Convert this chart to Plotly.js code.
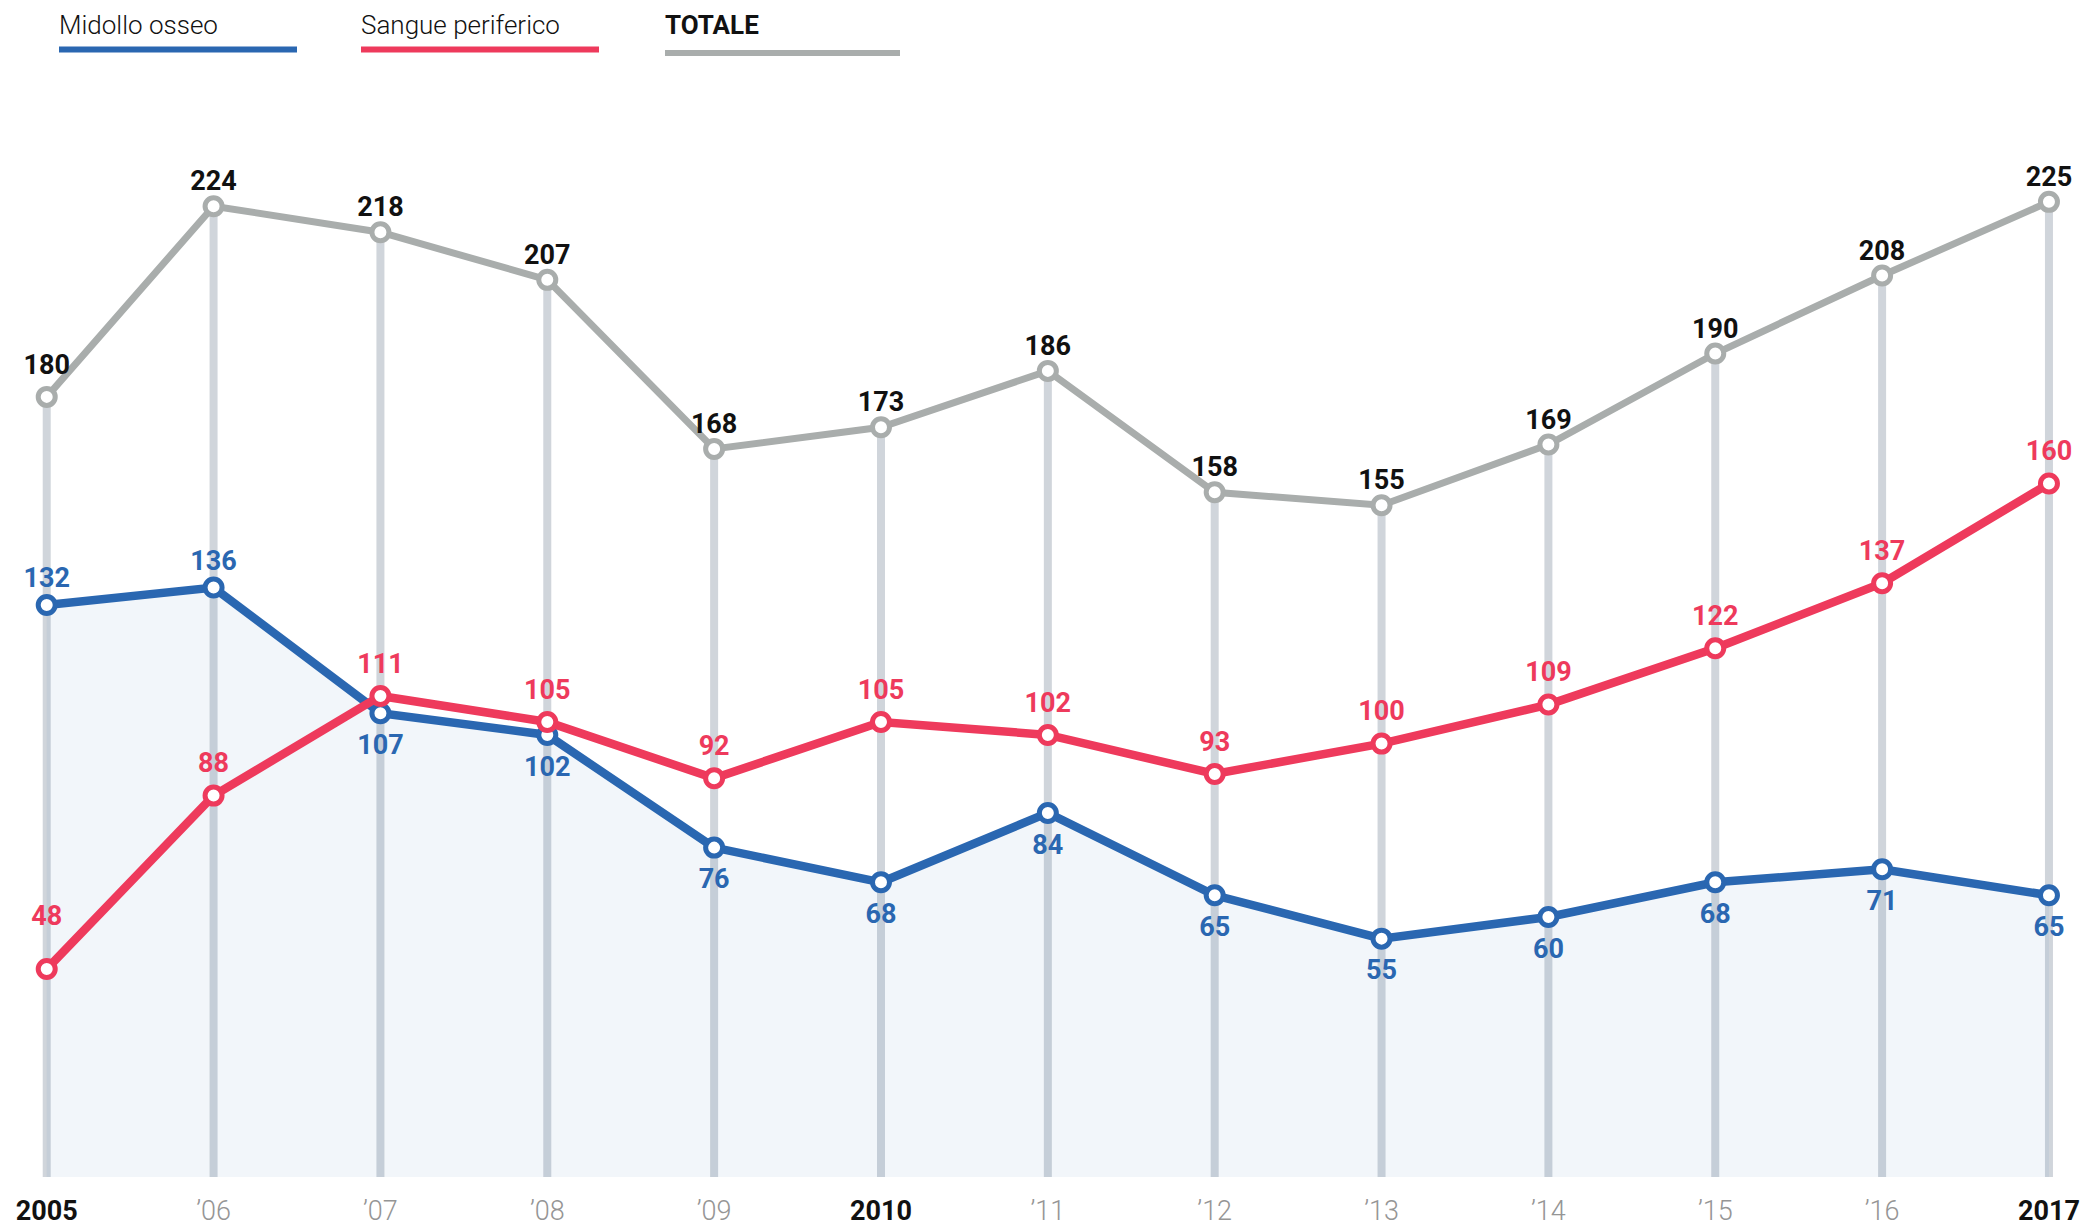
<!DOCTYPE html>
<html><head><meta charset="utf-8">
<script src="https://cdn.plot.ly/plotly-3.0.1.min.js"></script>
<style>html,body{margin:0;padding:0;background:#fff;}</style>
</head><body>
<div id="chart" style="width:2085px;height:1227px;"></div>
<script>
const years = [2005,2006,2007,2008,2009,2010,2011,2012,2013,2014,2015,2016,2017];
const tickLabels = ['2005','’06','’07','’08','’09','2010','’11','’12','’13','’14','’15','’16','2017'];
const boldYears = [2005,2010,2017];
const midollo = [132,136,107,102,76,68,84,65,55,60,68,71,65];
const sangue = [48,88,111,105,92,105,102,93,100,109,122,137,160];
const totale = [180,224,218,207,168,173,186,158,155,169,190,208,225];
const midolloLabelPos = ['top center','top center','bottom center','bottom center','bottom center','bottom center','bottom center','bottom center','bottom center','bottom center','bottom center','bottom center','bottom center'];
const seriesNames = ['Midollo osseo','Sangue periferico','TOTALE'];

/* ---- styles ---- */
const BLUE = '#2a67b1', RED = '#ee3a5c', GRAY = '#a9adac', DROP = '#d0d5db';
const labelFont = (c) => ({family:'Roboto', size:27, weight:'bold', color:c});
/* invisible spacer sizes that set the distance of each value label from its point */
const padMidollo = midolloLabelPos.map(p => p.startsWith('top') ? 16 : 31);
const padSangue = years.map((y,i) => i === 0 ? 58 : 25);
const padTotale = years.map((y,i) => i === 0 ? 25 : 13);

const dropX = [], dropY = [];
years.forEach((y,i) => { dropX.push(y,y,null); dropY.push(0,totale[i],null); });

const markerOf = (c) => ({symbol:'circle', size:17, color:'#ffffff', line:{color:c, width:5}});
const lineTrace = (vals, c, w, extra) => Object.assign({x:years, y:vals, mode:'lines+markers',
  line:{color:c, width:w}, marker:markerOf(c)}, extra || {});
const labelTrace = (vals, c, pos, pad) => ({x:years, y:vals, mode:'markers+text',
  marker:{size:pad, opacity:0}, text:vals.map(String), textposition:pos, textfont:labelFont(c), cliponaxis:false});

const traces = [
  {x:dropX, y:dropY, mode:'lines', line:{color:DROP, width:8}, hoverinfo:'skip'},
  lineTrace(midollo, BLUE, 8.5, {fill:'tozeroy', fillcolor:'rgba(42,103,177,0.06)'}),
  lineTrace(totale, GRAY, 7),
  lineTrace(sangue, RED, 8.5),
  labelTrace(midollo, BLUE, midolloLabelPos, padMidollo),
  labelTrace(totale, '#111', 'top center', padTotale),
  labelTrace(sangue, RED, 'top center', padSangue)
];

const ticktext = years.map((y,i) => boldYears.includes(y) ? '<b>'+tickLabels[i]+'</b>'
  : '<span style="color:#959595;font-weight:300">'+tickLabels[i]+'</span>');

const T = 100, B = 1177, H = B - T;
const py = (p) => (B - p) / H;
const px = (p) => p / 2085;
const legendItems = [
  {name:seriesNames[0], x0:59, x1:297, y:49.5, color:BLUE, bold:false},
  {name:seriesNames[1], x0:361, x1:599, y:49.5, color:RED, bold:false},
  {name:seriesNames[2], x0:665, x1:900, y:53, color:GRAY, bold:true}
];
const shapes = legendItems.map(it => ({type:'line', xref:'paper', yref:'paper', x0:px(it.x0), x1:px(it.x1),
  y0:py(it.y), y1:py(it.y), line:{color:it.color, width:6}}));
const annotations = legendItems.map(it => ({xref:'paper', yref:'paper', x:px(it.x0 - 2), y:py(25),
  xanchor:'left', yanchor:'middle', showarrow:false, text: it.bold ? '<b>'+it.name+'</b>' : it.name,
  font:{family:'Roboto', size: 26, weight: it.bold ? 'bold' : 300, color:'#111'}}));

const layout = {
  width:2085, height:1227, margin:{l:0, r:0, t:T, b:1227-B},
  paper_bgcolor:'#fff', plot_bgcolor:'#fff', showlegend:false, hovermode:false,
  xaxis:{range:[2004.72, 2017.216], tickvals:years, ticktext:ticktext, showgrid:false, zeroline:false,
    showline:false, ticks:'', ticklabelstandoff:15, tickfont:{family:'Roboto', size:27, color:'#111'}},
  yaxis:{range:[0, 248.5], visible:false, showgrid:false, zeroline:false},
  shapes:shapes, annotations:annotations
};
Plotly.newPlot('chart', traces, layout, {displayModeBar:false, staticPlot:true});
</script>
</body></html>
